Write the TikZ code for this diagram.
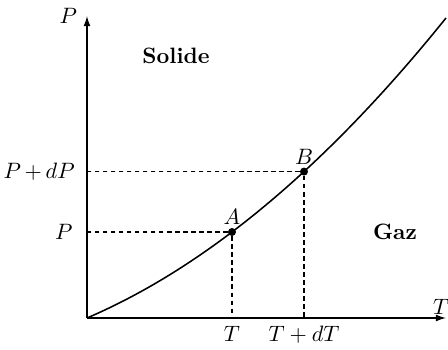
\documentclass[tikz,border=0pt]{standalone}
\usepackage{amsmath,amssymb}
\usetikzlibrary{arrows.meta,positioning,calc}
\tikzset{
  axis/.style={-{Latex[length=1.6mm,width=1.1mm]}, line width=0.6pt},
  guide/.style={line width=0.6pt, dash pattern=on 2pt off 1.6pt},
  curve/.style={line width=0.7pt},
  pointdot/.style={circle, fill=black, inner sep=0pt, minimum size=3.6pt},
  region/.style={font=\bfseries}
}
\begin{document}
\begin{tikzpicture}[x=0.158cm, y=0.158cm]
\useasboundingbox (-8.7,-3.1) rectangle (36.1,31.8);
\coordinate (O) at (0,0);
\coordinate (Pmax) at (0,30.2);
\coordinate (Tmax) at (35.9,0);
\node[pointdot, label={[inner sep=1pt]above:$A$}] (A) at (14.5,8.6) {};
\node[pointdot, label={[inner sep=1pt]above:$B$}] (B) at (21.7,14.64) {};
\coordinate (PA) at (O |- A);
\coordinate (PB) at (O |- B);
\coordinate (TA) at (O -| A);
\coordinate (TB) at (O -| B);
% axes
\draw[axis] (O) -- (Tmax);
\draw[axis] (O) -- (Pmax);
\node[left=1pt of Pmax] (Plab) {$P$};
\node[above left=-2pt and -5pt of Tmax] (Tlab) {$T$};
% sublimation curve
\draw[curve] plot[domain=0:35.9, samples=60] (\x, {0.4287*\x+0.01134*\x*\x});
% guides
\draw[guide] (A) -- (PA);
\draw[guide] (A) -- (TA);
\draw[guide] (B) -- (PB);
\draw[guide] (B) -- (TB);
\node[left=3pt of PA] (Pval) {$P$};
\node[left=2pt of PB] (PdP) {$P\mkern3mu{+}\mkern3mu dP$};
\node[below=0pt of TA] (Tval) {$T$};
\node[below=0pt of TB] (TdT) {$T+dT$};
% regions
\node[region] (solide) at (8.9,26.2) {Solide};
\node[region] (gaz) at (30.8,8.6) {Gaz};
\end{tikzpicture}
\end{document}
